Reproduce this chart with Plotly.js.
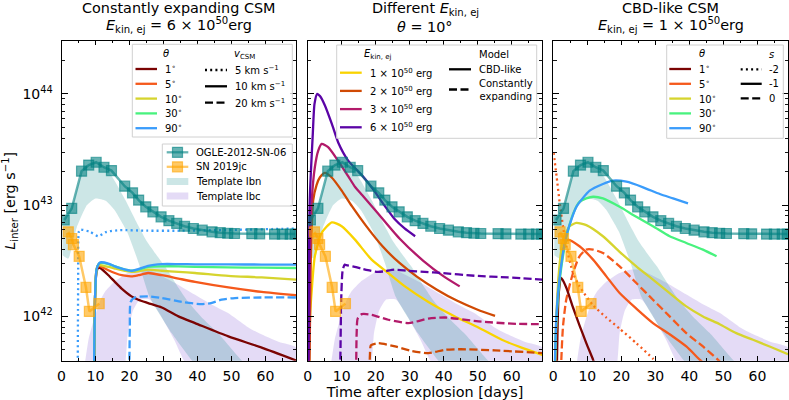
<!DOCTYPE html>
<html><head><meta charset="utf-8">
<script src="https://cdn.plot.ly/plotly-3.0.1.min.js"></script>
<style>html,body{margin:0;padding:0;background:#fff;} #chart{width:789px;height:400px;}</style>
</head><body><div id="chart"></div>
<script>
// ---------------- DATA (luminosities as log10 L_inter [erg/s], time in days) ----------------
const ogleDay = [0.8, 3.0, 5.9, 8.0, 10.2, 12.5, 14.7, 18.6, 20.9, 22.7, 24.8, 26.9, 29.3, 31.6, 33.9, 36.2, 38.8, 41.4, 44.3, 46.7, 48.9, 50.9, 56.0, 58.3, 62.7, 65.0, 67.3, 68.8];
const ogleLog = [42.866, 42.97, 43.305, 43.36, 43.385, 43.34, 43.31, 43.17, 43.11, 43.045, 42.985, 42.94, 42.895, 42.86, 42.835, 42.81, 42.79, 42.775, 42.76, 42.752, 42.747, 42.745, 42.743, 42.742, 42.74, 42.74, 42.74, 42.74];
const jcDay = [2.0, 3.0, 3.5, 5.2, 7.2, 8.2, 11.1];
const jcLog = [42.76, 42.70, 42.645, 42.54, 42.26, 42.045, 42.115];

const ibnUpDay = [0.3, 3, 6, 8, 10, 12.5, 15, 18.8, 22, 25, 28, 30.5, 33.5, 36.8, 41, 46, 52.8, 58];
const ibnUpLog = [42.84, 42.98, 43.29, 43.36, 43.39, 43.34, 43.25, 43.045, 42.85, 42.68, 42.55, 42.448, 42.3, 42.15, 42.0, 41.85, 41.61, 41.45];
const ibnLoDay = [0.3, 2, 4.5, 7.5, 10, 13, 15.5, 19.3, 22.7, 26, 32.4, 38.2, 45];
const ibnLoLog = [42.55, 42.52, 42.8, 43.0, 43.06, 43.04, 42.96, 42.76, 42.48, 42.17, 41.85, 41.61, 41.35];
const ibcUpDay = [6.5, 8, 9.5, 11.5, 13, 15.5, 19.5, 22.5, 25.5, 29, 34, 39, 44, 49, 54.5, 58, 64, 69];
const ibcUpLog = [41.5, 41.8, 41.97, 42.15, 42.23, 42.31, 42.39, 42.42, 42.42, 42.37, 42.29, 42.2, 42.11, 42.03, 41.91, 41.85, 41.77, 41.72];
const ibcLoDay = [6.5, 18.3, 19.5, 21, 23, 26, 29, 33, 37, 45, 69];
const ibcLoLog = [41.0, 41.5, 41.85, 42.05, 42.15, 42.15, 42.02, 41.8, 41.55, 41.3, 41.0];

// Panel 1: constantly expanding CSM, E = 6e50 erg
const ceV5Deg90Day = [4.75, 4.9, 5.1, 5.5, 8.4, 10.8, 13.3, 17.2, 25, 35, 45, 55, 62, 69];
const ceV5Deg90Log = [41.3, 42.3, 42.76, 42.78, 42.76, 42.72, 42.76, 42.775, 42.77, 42.77, 42.775, 42.78, 42.785, 42.79];
const ceV10Day = [9.5, 9.9, 10.3, 10.9, 11.4, 13.8, 15.7, 17.7, 20.6, 22.6, 25.5, 29.5, 34.4, 39.3, 49.1, 58.9, 69];
const ceV10Deg1Log  = [41.3, 42.2, 42.4, 42.44, 42.435, 42.37, 42.31, 42.25, 42.18, 42.15, 42.12, 42.08, 42.0, 41.94, 41.82, 41.72, 41.605];
const ceV10Deg5Log  = [41.3, 42.2, 42.42, 42.46, 42.45, 42.415, 42.39, 42.37, 42.36, 42.37, 42.39, 42.37, 42.34, 42.31, 42.26, 42.22, 42.19];
const ceV10Deg10Log = [41.3, 42.2, 42.42, 42.465, 42.46, 42.445, 42.43, 42.415, 42.40, 42.405, 42.42, 42.41, 42.40, 42.39, 42.365, 42.35, 42.33];
const ceV10Deg30Log = [41.3, 42.2, 42.42, 42.47, 42.48, 42.47, 42.45, 42.43, 42.41, 42.42, 42.445, 42.45, 42.45, 42.445, 42.44, 42.438, 42.435];
const ceV10Deg90Log = [41.3, 42.2, 42.42, 42.47, 42.485, 42.475, 42.45, 42.43, 42.41, 42.425, 42.455, 42.47, 42.47, 42.468, 42.467, 42.466, 42.465];
const ceV20Deg90Day = [19.9, 20.1, 20.35, 21.6, 25.5, 29.5, 35.4, 41.2, 44, 47.1, 51, 58.9, 69];
const ceV20Deg90Log = [41.3, 41.9, 42.13, 42.17, 42.18, 42.165, 42.13, 42.11, 42.12, 42.15, 42.165, 42.17, 42.17];

// Panel 2: theta = 10 deg, different E_kin,ej (CBD-like solid, constantly expanding dashed)
const cbdE1Day = [0.3, 0.7, 1.2, 2.1, 4.1, 7.1, 10.0, 13.9, 18.8, 23.7, 28.6, 35.5, 43.3, 50.2, 57.1, 62.9, 69];
const cbdE1Log = [41.3, 42.0, 42.24, 42.54, 42.75, 42.845, 42.81, 42.69, 42.51, 42.39, 42.27, 42.13, 42.0, 41.9, 41.79, 41.72, 41.655];
const cbdE2Day = [0.4, 0.9, 1.6, 2.6, 3.6, 5.1, 7.0, 10.0, 13.0, 17.0, 22.0, 27.0, 32.0, 38.0, 44.0, 50.0, 55.1];
const cbdE2Log = [41.3, 42.5, 43.04, 43.18, 43.25, 43.29, 43.25, 43.13, 42.99, 42.82, 42.63, 42.48, 42.36, 42.24, 42.14, 42.06, 42.005];
const cbdE3Day = [0.3, 0.65, 1.2, 2.1, 3.1, 4.1, 6.0, 8.9, 11.9, 14.0, 16.0, 20.0, 27.0, 34.0, 40.0, 44.7];
const cbdE3Log = [41.3, 42.5, 43.045, 43.34, 43.49, 43.55, 43.52, 43.40, 43.26, 43.16, 43.09, 42.95, 42.70, 42.50, 42.36, 42.27];
const cbdE6Day = [0.2, 0.6, 1.5, 2.0, 2.8, 3.6, 5.0, 7.1, 9.0, 11.9, 15.9, 19.3, 22.5, 25.7, 28.5, 31.6];
const cbdE6Log = [41.3, 43.04, 43.64, 43.91, 44.0, 43.98, 43.90, 43.73, 43.56, 43.40, 43.27, 43.14, 43.00, 42.87, 42.79, 42.72];
const ceE3Day = [14.2, 14.4, 14.7, 15.9, 18.8, 23.7, 29.6, 35.5, 40.4, 50.2, 60, 69];
const ceE3Log = [41.3, 41.85, 41.98, 42.02, 42.015, 41.97, 41.94, 41.98, 41.99, 41.955, 41.935, 41.93];
const ceE2Day = [18.1, 18.3, 18.6, 20.8, 25.7, 30.6, 35.5, 40.4, 45, 55.1, 69];
const ceE2Log = [41.3, 41.65, 41.74, 41.76, 41.73, 41.69, 41.67, 41.70, 41.705, 41.695, 41.67];
// (E = 6e50 constantly expanding, theta = 10 deg is the same model as panel 1, 10 km/s, 10 deg)

// Panel 3: CBD-like CSM, E = 1e50 erg
const cbdS1Deg1Day  = [0.9, 1.3, 1.6, 2.35, 3.8, 5.8, 7.7, 9.7, 11.7, 13];
const cbdS1Deg1Log  = [41.3, 41.97, 42.21, 42.345, 42.26, 42.08, 41.92, 41.76, 41.61, 41.5];
const cbdS1Deg5Day  = [0.4, 1.0, 2.0, 3.0, 4.3, 7.7, 11.7, 15.6, 19.5, 24.4, 29.3, 34.2, 39.1, 43.1, 46];
const cbdS1Deg5Log  = [41.3, 42.0, 42.45, 42.62, 42.69, 42.63, 42.51, 42.36, 42.21, 42.07, 41.94, 41.84, 41.73, 41.61, 41.53];
const cbdS1Deg10Day = [0.3, 0.9, 1.8, 2.85, 4.8, 6.8, 9.7, 14.6, 19.5, 24.4, 29.3, 34.2, 39.1, 44.0, 48.9, 53.8, 58.7, 63.6, 69];
const cbdS1Deg10Log = [41.3, 42.0, 42.45, 42.69, 42.81, 42.84, 42.82, 42.72, 42.58, 42.45, 42.33, 42.21, 42.09, 42.0, 41.93, 41.85, 41.79, 41.73, 41.66];
const cbdS1Deg30Day = [0.3, 0.9, 1.9, 3.8, 5.8, 7.7, 9.7, 11.7, 14.6, 19.5, 24.4, 29.3, 34.2, 39.1, 44.0, 48.0];
const cbdS1Deg30Log = [41.3, 41.95, 42.33, 42.70, 42.92, 43.03, 43.06, 43.075, 43.06, 42.985, 42.895, 42.81, 42.72, 42.66, 42.60, 42.54];
const cbdS1Deg90Day = [0.25, 0.9, 1.9, 3.8, 6.8, 10.7, 14.6, 17.6, 21.5, 26.4, 31.3, 35.2, 39.6];
const cbdS1Deg90Log = [41.3, 42.0, 42.36, 42.72, 42.985, 43.13, 43.19, 43.22, 43.21, 43.16, 43.10, 43.06, 43.015];
const cbdS2Deg5Day  = [0.1, 1.0, 1.9, 2.85, 3.8, 5.8, 7.7, 11.7, 15.6, 19.5, 24.4, 29.3, 31];
const cbdS2Deg5Log  = [43.47, 43.25, 43.015, 42.81, 42.63, 42.39, 42.27, 42.10, 41.99, 41.89, 41.76, 41.62, 41.56];
const cbdS0Deg5Day  = [2.2, 2.35, 2.85, 3.8, 5.8, 7.7, 9.7, 11.7, 14.6, 19.5, 24.4, 29.3, 34.2, 39.1, 44.0, 48.4, 50];
const cbdS0Deg5Log  = [41.3, 41.6, 41.91, 42.15, 42.39, 42.54, 42.60, 42.60, 42.57, 42.45, 42.30, 42.15, 42.0, 41.85, 41.73, 41.61, 41.56];

// ticks and legend labels
const xTickVals = [0, 10, 20, 30, 40, 50, 60];
const xTickText = ['0', '10', '20', '30', '40', '50', '60'];
const yTickVals = [1e42, 1e43, 1e44];
const yTickText = ['10<sup>42</sup>', '10<sup>43</sup>', '10<sup>44</sup>'];
const thetaLabels = ['1<sup>∘</sup>', '5<sup>∘</sup>', '10<sup>∘</sup>', '30<sup>∘</sup>', '90<sup>∘</sup>'];
const vcsmLabels = ['5 km s<sup>−1</sup>', '10 km s<sup>−1</sup>', '20 km s<sup>−1</sup>'];
const energyLabels = ['1 × 10<sup>50</sup> erg', '2 × 10<sup>50</sup> erg', '3 × 10<sup>50</sup> erg', '6 × 10<sup>50</sup> erg'];
const modelLabels = ['CBD-like', 'Constantly<br>expanding'];
const sLabels = ['-2', '-1', '0'];
const obsLabels = ['OGLE-2012-SN-06', 'SN 2019jc', 'Template Ibn', 'Template Ibc'];
const titles1 = ['Constantly expanding CSM', 'Different <i>E</i><sub>kin, ej</sub>', 'CBD-like CSM'];
const titles2 = ['<i>E</i><sub>kin, ej</sub> = 6 × 10<sup>50</sup>erg', '<i>θ</i> = 10°', '<i>E</i><sub>kin, ej</sub> = 1 × 10<sup>50</sup>erg'];

// ---------------- STYLE ----------------
const thetaColors = ['#7a0403', '#f5591c', '#d6d42e', '#48f27e', '#3a9cfb'];
const energyColors = ['#f9d300', '#d04a04', '#b21a6a', '#5b04a6'];
const DOT = '2px,3.2px', DASH = '8px,3.5px';
const LW = 2.3;
const ogleCol = 'rgba(0,128,128,0.6)', jcCol = 'rgba(255,165,0,0.6)';
const ibnFill = 'rgba(0,128,128,0.2)', ibcFill = 'rgba(147,112,219,0.25)';

const L = a => a.map(v => Math.pow(10, v));
const traces = [];
function addLine(k, day, lg, color, dash) {
  traces.push({type: 'scatter', mode: 'lines', x: day, y: L(lg), xaxis: 'x' + (k > 1 ? k : ''), yaxis: 'y' + (k > 1 ? k : ''),
    line: {color: color, width: LW, dash: dash, shape: 'spline', smoothing: 0.6}, hoverinfo: 'skip'});
}
function addBand(k, upD, upL, loD, loL, fill) {
  traces.push({type: 'scatter', mode: 'lines', x: upD.concat(loD.slice().reverse()), y: L(upL.concat(loL.slice().reverse())),
    xaxis: 'x' + (k > 1 ? k : ''), yaxis: 'y' + (k > 1 ? k : ''), fill: 'toself', fillcolor: fill,
    line: {width: 0, shape: 'spline', smoothing: 0.5}, hoverinfo: 'skip'});
}
function addObs(k, day, lg, col) {
  traces.push({type: 'scatter', mode: 'lines+markers', x: day, y: L(lg), xaxis: 'x' + (k > 1 ? k : ''), yaxis: 'y' + (k > 1 ? k : ''),
    line: {color: col, width: 2.5}, marker: {symbol: 'square', size: 10, color: col, line: {color: col, width: 1.2}}, hoverinfo: 'skip'});
}
for (let k = 1; k <= 3; k++) {
  addBand(k, ibcUpDay, ibcUpLog, ibcLoDay, ibcLoLog, ibcFill);
  addBand(k, ibnUpDay, ibnUpLog, ibnLoDay, ibnLoLog, ibnFill);
  if (k === 1) {
    addLine(1, ceV5Deg90Day, ceV5Deg90Log, thetaColors[4], DOT);
    [ceV10Deg1Log, ceV10Deg5Log, ceV10Deg10Log, ceV10Deg30Log, ceV10Deg90Log].forEach((lg, i) => addLine(1, ceV10Day, lg, thetaColors[i], 'solid'));
    addLine(1, ceV20Deg90Day, ceV20Deg90Log, thetaColors[4], DASH);
  } else if (k === 2) {
    addLine(2, cbdE1Day, cbdE1Log, energyColors[0], 'solid');
    addLine(2, cbdE2Day, cbdE2Log, energyColors[1], 'solid');
    addLine(2, cbdE3Day, cbdE3Log, energyColors[2], 'solid');
    addLine(2, cbdE6Day, cbdE6Log, energyColors[3], 'solid');
    addLine(2, ceE2Day, ceE2Log, energyColors[1], DASH);
    addLine(2, ceE3Day, ceE3Log, energyColors[2], DASH);
    addLine(2, ceV10Day, ceV10Deg10Log, energyColors[3], DASH);
  } else {
    addLine(3, cbdS2Deg5Day, cbdS2Deg5Log, thetaColors[1], DOT);
    addLine(3, cbdS0Deg5Day, cbdS0Deg5Log, thetaColors[1], DASH);
    addLine(3, cbdS1Deg1Day, cbdS1Deg1Log, thetaColors[0], 'solid');
    addLine(3, cbdS1Deg5Day, cbdS1Deg5Log, thetaColors[1], 'solid');
    addLine(3, cbdS1Deg10Day, cbdS1Deg10Log, thetaColors[2], 'solid');
    addLine(3, cbdS1Deg30Day, cbdS1Deg30Log, thetaColors[3], 'solid');
    addLine(3, cbdS1Deg90Day, cbdS1Deg90Log, thetaColors[4], 'solid');
  }
  addObs(k, ogleDay, ogleLog, ogleCol);
  addObs(k, jcDay, jcLog, jcCol);
}

// ---------------- LAYOUT ----------------
const W = 789, H = 400;
const PX = x => x / W, PY = y => 1 - y / H;
const panelX = [[61.5, 296], [307.7, 542.3], [553.3, 788]];
const yDom = [PY(360.7), PY(40.7)];
const minorY = [];
for (let n = 41; n <= 44; n++) for (let m = 2; m <= 9; m++) minorY.push(m * Math.pow(10, n));

const layout = {width: W, height: H, margin: {l: 0, r: 0, t: 0, b: 0}, showlegend: false,
  paper_bgcolor: '#fff', plot_bgcolor: '#fff', font: {family: 'DejaVu Sans', size: 14, color: '#000'},
  shapes: [], annotations: []};
for (let k = 1; k <= 3; k++) {
  const s = k > 1 ? k : '';
  const xa = {domain: [PX(panelX[k-1][0]), PX(panelX[k-1][1])], anchor: 'y' + s, range: [0, 69],
    tickmode: 'array', tickvals: xTickVals, ticktext: xTickText, ticks: 'inside', ticklen: 4.5, tickwidth: 1, tickcolor: '#000',
    minor: {tickmode: 'linear', tick0: 5, dtick: 10, ticks: 'inside', ticklen: 2.5, tickcolor: '#000', tickwidth: 1},
    showline: true, linecolor: '#000', linewidth: 1, mirror: 'allticks', showgrid: false, zeroline: false, automargin: false,
    tickfont: {size: 14}, ticklabelstandoff: 2};
  if (k === 2) xa.title = {text: 'Time after explosion [days]', font: {size: 14.4}, standoff: 4};
  layout['xaxis' + s] = xa;
  const ya = {domain: yDom, anchor: 'x' + s, type: 'log', range: [Math.log10(4e41), Math.log10(3e44)],
    tickmode: 'array', tickvals: yTickVals, ticktext: yTickText, showticklabels: k === 1,
    ticks: 'inside', ticklen: 6, tickwidth: 1, tickcolor: '#000',
    minor: {tickmode: 'array', tickvals: minorY, ticks: 'inside', ticklen: 3.5, tickcolor: '#000', tickwidth: 0.9},
    showline: true, linecolor: '#000', linewidth: 1, mirror: 'allticks', showgrid: false, zeroline: false, automargin: false,
    tickfont: {size: 14}, ticklabelstandoff: 5};
  if (k === 1) ya.title = {text: '<i>L</i><sub>inter</sub> [erg s<sup>−1</sup>]', font: {size: 14.4}, standoff: 11};
  layout['yaxis' + s] = ya;
}
// titles
for (let k = 0; k < 3; k++) {
  const cx = (panelX[k][0] + panelX[k][1]) / 2;
  layout.annotations.push({xref: 'paper', yref: 'paper', x: PX(cx), y: PY(-1), text: titles1[k], showarrow: false, xanchor: 'center', yanchor: 'top', font: {size: 14.4}, borderpad: 0});
  layout.annotations.push({xref: 'paper', yref: 'paper', x: PX(cx), y: PY(k === 1 ? 26.5 : 25.5), text: titles2[k], showarrow: false, xanchor: 'center', yanchor: 'middle', font: {size: 14.4}, borderpad: 0});
}
// legend helpers (legend glyphs, not data)
function legBox(x0, y0, x1, y1) { layout.shapes.push({type: 'rect', xref: 'paper', yref: 'paper', x0: PX(x0), x1: PX(x1), y0: PY(y1), y1: PY(y0), line: {color: '#d0d0d0', width: 1}, fillcolor: 'rgba(255,255,255,0.8)', layer: 'above'}); }
function legLine(x0, x1, y, color, dash) { layout.shapes.push({type: 'line', xref: 'paper', yref: 'paper', x0: PX(x0), x1: PX(x1), y0: PY(y), y1: PY(y), line: {color: color, width: LW, dash: dash}, layer: 'above'}); }
function legRect(x0, x1, y0, y1, fill, edge) { layout.shapes.push({type: 'rect', xref: 'paper', yref: 'paper', x0: PX(x0), x1: PX(x1), y0: PY(y1), y1: PY(y0), line: {color: edge || 'rgba(0,0,0,0)', width: edge ? 1.2 : 0}, fillcolor: fill, layer: 'above'}); }
function legText(x, y, text, anchor) { layout.annotations.push({xref: 'paper', yref: 'paper', x: PX(x), y: PY(y), text: text, showarrow: false, xanchor: anchor || 'left', yanchor: 'middle', font: {size: 10}, borderpad: 0}); }

// Panel 1 legends
legBox(132.3, 44.3, 292.3, 137);
legText(166, 53, '<i>θ</i>', 'center');
thetaLabels.forEach((t, i) => { const y = 69 + i * 14.8; legLine(135.5, 157, y, thetaColors[i], 'solid'); legText(163.5, y, t); });
legText(244, 55, '<i>v</i><sub>CSM</sub>', 'center');
[DOT, 'solid', DASH].forEach((d, i) => { const y = 70 + i * 16.3; legLine(205, 227, y, '#000', d); legText(233.5, y, vcsmLabels[i]); });
legBox(162.3, 144, 292.3, 206);
[ogleCol, jcCol].forEach((c, i) => { const y = 152.3 + i * 14.5; legLine(166.7, 188.3, y, c, 'solid'); legRect(172.5, 182.5, y - 5, y + 5, c, c); legText(194.5, y, obsLabels[i]); });
[ibnFill, ibcFill].forEach((c, i) => { const y = 181.5 + i * 14.5; legRect(166.7, 188.3, y - 3.5, y + 3.5, c); legText(194.5, y, obsLabels[2 + i]); });
// Panel 2 legend
legBox(336.7, 45, 536.7, 138.3);
legText(378, 54, '<i>E</i><sub>kin, ej</sub>', 'center');
energyLabels.forEach((t, i) => { const y = 72.7 + i * 18.2; legLine(340, 361.7, y, energyColors[i], 'solid'); legText(368.5, y, t); });
legText(494, 54, 'Model', 'center');
legLine(449, 471, 69.3, '#000', 'solid'); legText(477.5, 69.3, modelLabels[0]);
legLine(449, 471, 89.5, '#000', DASH); legText(477.5, 89.8, modelLabels[1]);
// Panel 3 legend
legBox(666.7, 45, 783.3, 138.3);
legText(701.7, 53, '<i>θ</i>', 'center');
thetaLabels.forEach((t, i) => { const y = 69 + i * 14.8; legLine(669.3, 691, y, thetaColors[i], 'solid'); legText(697.5, y, t); });
legText(771.7, 54.3, '<i>s</i>', 'center');
[DOT, 'solid', DASH].forEach((d, i) => { const y = 69.3 + i * 14.5; legLine(740.7, 761.7, y, '#000', d); legText(767.5, y, sLabels[i]); });

Plotly.newPlot('chart', traces, layout, {displayModeBar: false, staticPlot: true});
</script></body></html>
